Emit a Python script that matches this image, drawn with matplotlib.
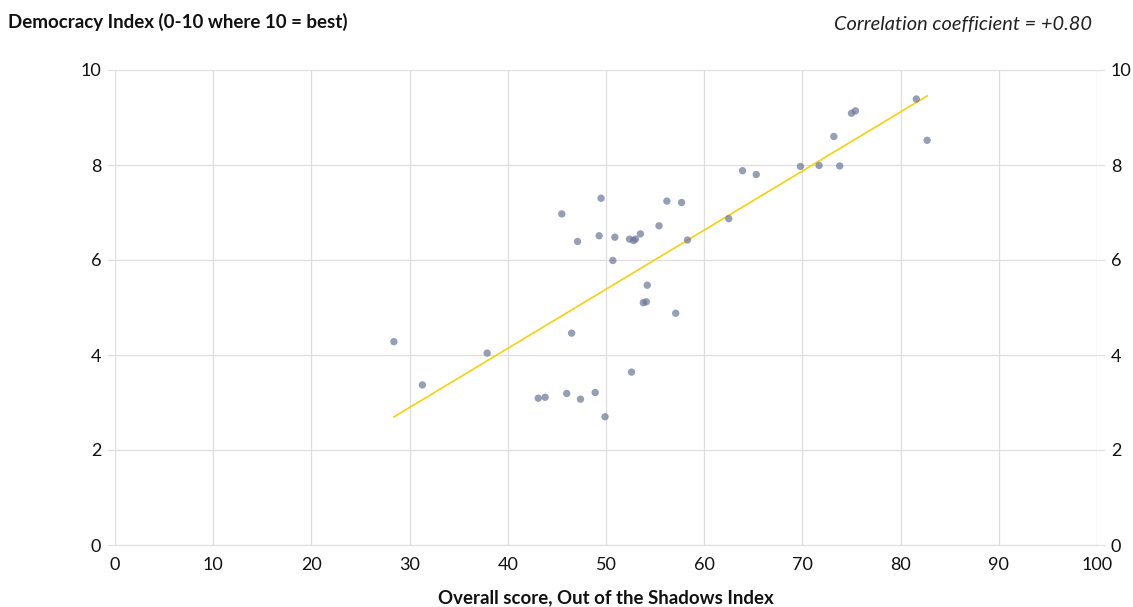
import numpy as np
import matplotlib.pyplot as plt

# Out of the Shadows overall score vs Democracy Index
shadows_score = [28.4, 31.3, 37.9, 43.1, 43.8, 46.0, 47.4, 48.9, 49.9, 52.6,
                 46.5, 57.1, 53.8, 54.1, 54.2, 50.7, 45.5, 49.5, 47.1, 49.3,
                 50.9, 52.4, 52.8, 53.0, 53.5, 55.4, 56.2, 57.7, 58.3, 62.5,
                 63.9, 65.3, 69.8, 71.7, 73.2, 73.8, 75.0, 75.4, 81.6, 82.7]
democracy_index = [4.28, 3.37, 4.04, 3.09, 3.11, 3.19, 3.07, 3.21, 2.70, 3.64,
                   4.46, 4.88, 5.10, 5.12, 5.47, 5.99, 6.97, 7.30, 6.39, 6.51,
                   6.48, 6.44, 6.41, 6.44, 6.55, 6.72, 7.24, 7.21, 6.42, 6.87,
                   7.88, 7.80, 7.97, 7.99, 8.60, 7.98, 9.09, 9.14, 9.39, 8.52]

x = np.array(shadows_score)
y = np.array(democracy_index)
slope, intercept = np.polyfit(x, y, 1)
xl = np.array([x.min(), x.max()])

plt.rcParams['font.family'] = ['Lato', 'DejaVu Sans']

fig = plt.figure(figsize=(11.33, 6.07), dpi=100)
ax = fig.add_axes([115 / 1133, 62 / 607, 982 / 1133, 475 / 607])

ax.plot(xl, slope * xl + intercept, color="#f5d20a", lw=1.2, zorder=2)
ax.scatter(x, y, s=28, color="#6b7698", alpha=0.7, edgecolors="none", zorder=3)

ax.set_xlim(0, 100)
ax.set_ylim(0, 10)
ax.set_xticks(range(0, 101, 10))
ax.set_yticks(range(0, 11, 2))
ax.grid(True, color="#dedede", lw=0.9)
ax.set_axisbelow(True)
for s in ["top", "right", "left"]:
    ax.spines[s].set_visible(False)
ax.spines["bottom"].set_color("#dedede")
ax.tick_params(axis="both", colors="#dedede", labelcolor="#111111", labelsize=13)
ax.tick_params(axis="y", right=True, labelright=True, length=6, pad=4)
ax.tick_params(axis="x", length=0, pad=8.5)

ax.set_xlabel("Overall score, Out of the Shadows Index", fontsize=13.4, fontweight="bold",
              labelpad=12, color="#111111")
fig.text(8 / 1133, 1 - 22 / 607, "Democracy Index (0-10 where 10 = best)", fontsize=13.5,
         fontweight="bold", va="center", ha="left", color="#111111")
fig.text(1092 / 1133, 1 - 25 / 607, "Correlation coefficient = +0.80", fontsize=14.4,
         style="italic", va="center", ha="right", color="#222222")

fig.savefig("out.png", dpi=100)
